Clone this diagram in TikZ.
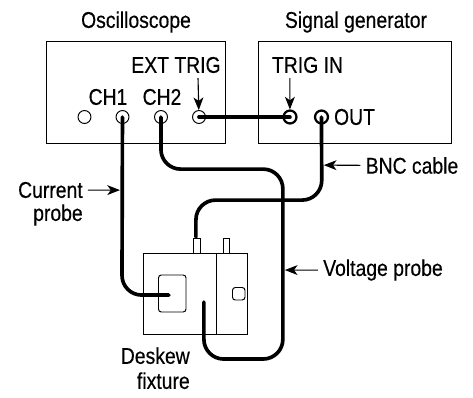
\documentclass[tikz,border=0pt]{standalone}
\usepackage{fontspec}
\setmainfont[FakeStretch=0.85,FakeBold=0.4]{Liberation Sans}
\usepackage{tkz-euclide}
\usetikzlibrary{calc, arrows.meta}

\tikzset{
  panel/.style={draw, line width=0.7pt, minimum size=0pt, inner sep=0pt},
  jack/.style={draw, circle, line width=0.7pt, minimum size=9.2pt, inner sep=0pt},
  jackbold/.style={jack, line width=1.6pt},
  cable/.style={line width=2.6pt, line cap=round, rounded corners=14pt},
  pointer/.style={line width=0.8pt, -{Stealth[length=9pt,width=7pt,inset=2.5pt]}, shorten <=3.5pt},
  lbl/.style={font=\fontsize{16.2}{17.8}\selectfont, inner sep=0pt},
}

\begin{document}
\begin{tikzpicture}[scale=0.025]
	\useasboundingbox (0,0) rectangle (473,397);
	
	% points the cables and arrows pass through
	\tkzDefPoints{161/228/a,283/228/b,283/38/c,204/38/d,204/95/e}
	\tkzDefPoints{322/197/f,196/197/g,196/160/h}
	\tkzDefPoints{122/102/i,169/102/j}
	\tkzDefPoints{198/324/p,290/324/q,120/207/r,324/232/s,285/127/t}
	
	% the two instruments
	\draw[panel] (46,254) rectangle (225,356);
	\draw[panel] (258.5,254) rectangle (451,356);
	
	\node[jack] (blank) at (84.5,280) {};
	\node[jack] (ch1) at (122.5,280) {};
	\node[jack] (ch2) at (161,280) {};
	\node[jack] (exttrig) at (199,280) {};
	\node[jackbold] (trigin) at (290,280) {};
	\node[jackbold] (out) at (321.5,280) {};
	
	% the fixture
	\draw[panel] (143,63) rectangle (247,144);
	\draw[panel] (216,63) -- (216,144);
	\draw[panel, rounded corners=2pt] (158.5,85) rectangle (186,122);
	\draw[panel, rounded corners=2pt] (232.5,97) rectangle (245,109.5);
	\draw[panel] (193.5,144) rectangle (200,158.5);
	\draw[panel] (223,144) rectangle (229,158.5);
	
	% cables
	\draw[cable] (exttrig.center) -- (trigin.center);
	\draw[cable] (ch1.center) -- (i) -- (j);
	\draw[cable] (ch2.center) -- (a) -- (b) -- (c) -- (d) -- (e);
	\draw[cable] (out.center) -- (f) -- (g) -- (h);
	
	% labels
	\node[lbl] (osc) at (136,375) {Oscilloscope};
	\node[lbl] (gen) at (356,375) {Signal generator};
	\node[lbl] (exttriglbl) at (176,332) {EXT TRIG};
	\node[lbl] (ch1lbl) at (108,300) {CH1};
	\node[lbl] (ch2lbl) at (162,300) {CH2};
	\node[lbl] (triginlbl) at (307.5,332) {TRIG IN};
	\node[lbl] (outlbl) at (354.5,280) {OUT};
	\node[lbl] (bnc) at (412,231.5) {BNC cable};
	\node[lbl] (voltage) at (383,127) {Voltage probe};
	\node[lbl, anchor=east] (current) at (83,207) {Current};
	\node[lbl, anchor=east] (probe) at (83,182) {probe};
	\node[lbl, align=right, anchor=north east] (deskew) at (190,50) {Deskew\\fixture};
	
	\draw[pointer] (p) -- (exttrig);
	\draw[pointer] (q) -- (trigin);
	\draw[pointer] (current) -- (r);
	\draw[pointer] (bnc) -- (s);
	\draw[pointer] (voltage) -- (t);
\end{tikzpicture}
\end{document}
